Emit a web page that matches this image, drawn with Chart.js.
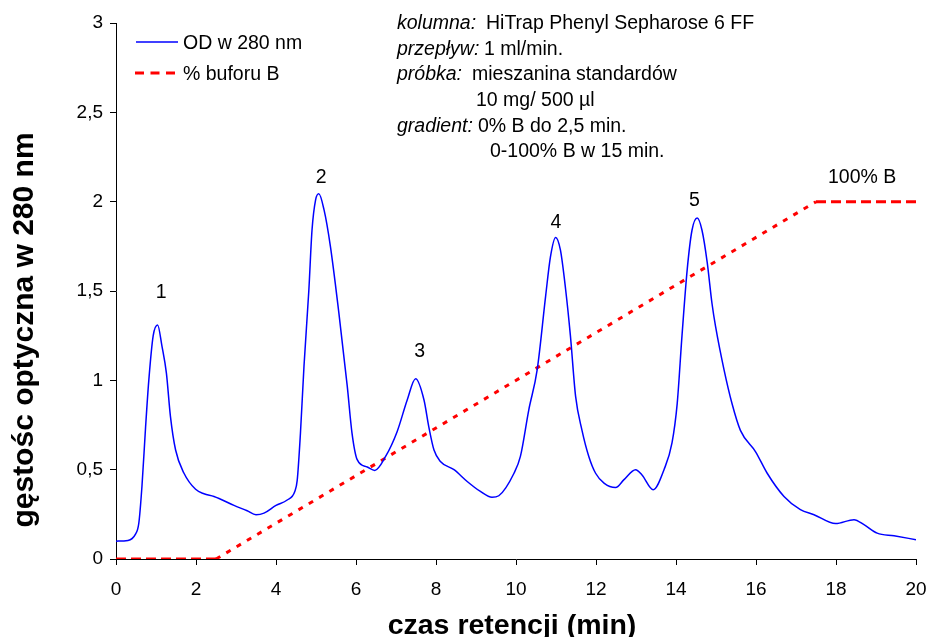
<!DOCTYPE html>
<html>
<head>
<meta charset="utf-8">
<script src="https://cdn.jsdelivr.net/npm/chart.js@4/dist/chart.umd.min.js"></script>
<style>
  body { margin: 0; background: #fff; }
</style>
</head>
<body>
<canvas id="chrom" width="926" height="637"></canvas>
<script>
// OD w 280 nm (czas retencji w min)
var odTime = [0, 0.3, 0.48, 0.57, 0.65, 0.74, 0.82, 0.93, 1.04, 1.15, 1.26, 1.36, 1.49, 1.7, 1.99, 2.2, 2.45, 2.95, 3.28, 3.5,
    3.7, 4.0, 4.28, 4.47, 4.53, 4.61, 4.7, 4.82, 4.9, 4.99, 5.07, 5.2, 5.36, 5.57, 5.78, 5.9, 6.03, 6.28, 6.47, 6.74,
    7.03, 7.28, 7.49, 7.7, 7.82, 7.95, 8.11, 8.45, 8.78, 9.11, 9.4, 9.57, 9.95, 10.11, 10.32, 10.53, 10.74, 10.86, 10.99, 11.11,
    11.24, 11.36, 11.49, 11.65, 11.82, 11.99, 12.2, 12.49, 12.7, 12.99, 13.15, 13.43, 13.7, 13.9, 14.03, 14.15, 14.28, 14.4, 14.53, 14.65,
    14.78, 14.9, 14.99, 15.2, 15.4, 15.61, 15.99, 16.28, 16.7, 17.11, 17.45, 17.99, 18.45, 18.7, 19.03, 19.45, 20];
var odValue = [0.10, 0.104, 0.136, 0.2, 0.41, 0.74, 1.0, 1.25, 1.31, 1.19, 1.04, 0.80, 0.61, 0.48, 0.39, 0.365, 0.35, 0.30, 0.27, 0.248,
    0.257, 0.30, 0.33, 0.378, 0.44, 0.70, 1.08, 1.5, 1.84, 2.01, 2.044, 1.955, 1.75, 1.38, 0.97, 0.705, 0.556, 0.515, 0.496, 0.574,
    0.714, 0.89, 1.009, 0.89, 0.74, 0.61, 0.546, 0.50, 0.434, 0.378, 0.345, 0.354, 0.48, 0.574, 0.835, 1.06, 1.47, 1.69, 1.80, 1.73,
    1.51, 1.25, 0.91, 0.72, 0.574, 0.48, 0.425, 0.40, 0.444, 0.50, 0.47, 0.388, 0.50, 0.65, 0.87, 1.25, 1.62, 1.84, 1.908, 1.84,
    1.66, 1.43, 1.30, 1.06, 0.87, 0.72, 0.60, 0.48, 0.35, 0.276, 0.248, 0.198, 0.22, 0.192, 0.145, 0.13, 0.108];

// % buforu B
var bufTime = [0, 2.5, 17.5, 20];
var bufPercent = [0, 0, 100, 100];

// numery pikow
var peakNames = ['1', '2', '3', '4', '5'];
var peakTimes = [1.13, 5.13, 7.59, 11.0, 14.46];
var peakLabelY = [1.462, 2.106, 1.131, 1.85, 1.977];

var xTicks = [0, 2, 4, 6, 8, 10, 12, 14, 16, 18, 20];
var yTicks = [0, 0.5, 1, 1.5, 2, 2.5, 3];

var infoKeys = ['kolumna:', 'przepływ:', 'próbka:', '', 'gradient:', ''];
var infoValues = ['HiTrap Phenyl Sepharose 6 FF', '1 ml/min.', 'mieszanina standardów', '10 mg/ 500 µl', '0% B do 2,5 min.', '0-100% B w 15 min.'];

var FONT = '"Liberation Sans", Arial, sans-serif';

var odPoints = [];
for (var i = 0; i < odTime.length; i++) {
    odPoints.push({ x: odTime[i], y: odValue[i] });
}
var bufPoints = [];
for (var j = 0; j < bufTime.length; j++) {
    bufPoints.push({ x: bufTime[j], y: bufPercent[j] });
}

const extras = {
    id: 'extras',
    afterDraw(chart) {
        const ctx = chart.ctx;
        const sx = chart.scales.x, sy = chart.scales.y;
        ctx.save();
        ctx.fillStyle = '#000';

        // numery pikow + 100% B
        ctx.font = '19.5px ' + FONT;
        ctx.textAlign = 'center';
        ctx.textBaseline = 'alphabetic';
        for (var i = 0; i < peakNames.length; i++) {
            ctx.fillText(peakNames[i], sx.getPixelForValue(peakTimes[i]), sy.getPixelForValue(peakLabelY[i]));
        }
        ctx.textAlign = 'left';
        ctx.fillText('100% B', sx.getPixelForValue(17.8), sy.getPixelForValue(2.106));

        // opis warunkow
        var baseY = [29, 55, 80, 106, 132, 157];
        var valX = [486, 484, 472, 476, 478, 490];
        for (var k = 0; k < infoValues.length; k++) {
            if (infoKeys[k]) {
                ctx.font = 'italic 19.5px ' + FONT;
                ctx.fillText(infoKeys[k], 397, baseY[k]);
            }
            ctx.font = '19.5px ' + FONT;
            ctx.fillText(infoValues[k], valX[k], baseY[k]);
        }

        // legenda
        ctx.font = '19.5px ' + FONT;
        ctx.strokeStyle = '#0000ff';
        ctx.lineWidth = 1.5;
        ctx.beginPath();
        ctx.moveTo(136, 42);
        ctx.lineTo(178, 42);
        ctx.stroke();
        ctx.fillText('OD w 280 nm', 183, 48.5);
        ctx.strokeStyle = '#ff0000';
        ctx.lineWidth = 3;
        ctx.setLineDash([9, 6.5]);
        ctx.beginPath();
        ctx.moveTo(135, 73);
        ctx.lineTo(176, 73);
        ctx.stroke();
        ctx.setLineDash([]);
        ctx.fillText('% buforu B', 183, 80);

        // tytuly osi
        ctx.font = 'bold 28.5px ' + FONT;
        ctx.textAlign = 'center';
        ctx.fillText('czas retencji (min)', 512, 634);
        ctx.translate(33, 330);
        ctx.rotate(-Math.PI / 2);
        ctx.font = 'bold 30px ' + FONT;
        ctx.fillText('gęstośc optyczna w 280 nm', 0, 0);
        ctx.restore();
    }
};

const ctx = document.getElementById('chrom').getContext('2d');
const chart = new Chart(ctx, {
    type: 'line',
    data: {
        datasets: [{
            label: 'OD w 280 nm',
            data: odPoints,
            borderColor: '#0000ff',
            borderWidth: 1.5,
            pointRadius: 0,
            fill: false,
            cubicInterpolationMode: 'monotone',
            yAxisID: 'y'
        }, {
            label: '% buforu B',
            data: bufPoints,
            borderColor: '#ff0000',
            borderWidth: 3,
            borderDash: [10, 5],
            pointRadius: 0,
            fill: false,
            tension: 0,
            yAxisID: 'y2',
            segment: {
                borderDash: function (c) {
                    return c.p0.parsed.y === c.p1.parsed.y ? [10, 5] : [5, 7];
                }
            }
        }]
    },
    options: {
        responsive: false,
        animation: false,
        layout: { padding: { top: 23, right: 10, left: 0, bottom: 0 } },
        plugins: {
            legend: { display: false },
            tooltip: { enabled: false }
        },
        scales: {
            x: {
                type: 'linear',
                min: 0,
                max: 20,
                afterFit: function (s) { s.height = 78; s.paddingRight = 0; s.paddingLeft = 0; },
                afterBuildTicks: function (s) { s.ticks = xTicks.map(function (v) { return { value: v }; }); },
                grid: { display: true, drawOnChartArea: false, drawTicks: true, tickLength: 6, color: '#000' },
                border: { display: true, color: '#000', width: 1 },
                ticks: { color: '#000', font: { family: FONT, size: 19 }, padding: 13, maxRotation: 0 }
            },
            y: {
                min: 0,
                max: 3,
                afterFit: function (s) { s.width = 116; },
                afterBuildTicks: function (s) { s.ticks = yTicks.map(function (v) { return { value: v }; }); },
                grid: { display: true, drawOnChartArea: false, drawTicks: true, tickLength: 6, color: '#000' },
                border: { display: true, color: '#000', width: 1 },
                ticks: {
                    color: '#000',
                    font: { family: FONT, size: 19 },
                    padding: 7,
                    callback: function (v) { return String(v).replace('.', ','); }
                }
            },
            y2: {
                display: false,
                min: 0,
                max: 150
            }
        }
    },
    plugins: [extras]
});
</script>
</body>
</html>
